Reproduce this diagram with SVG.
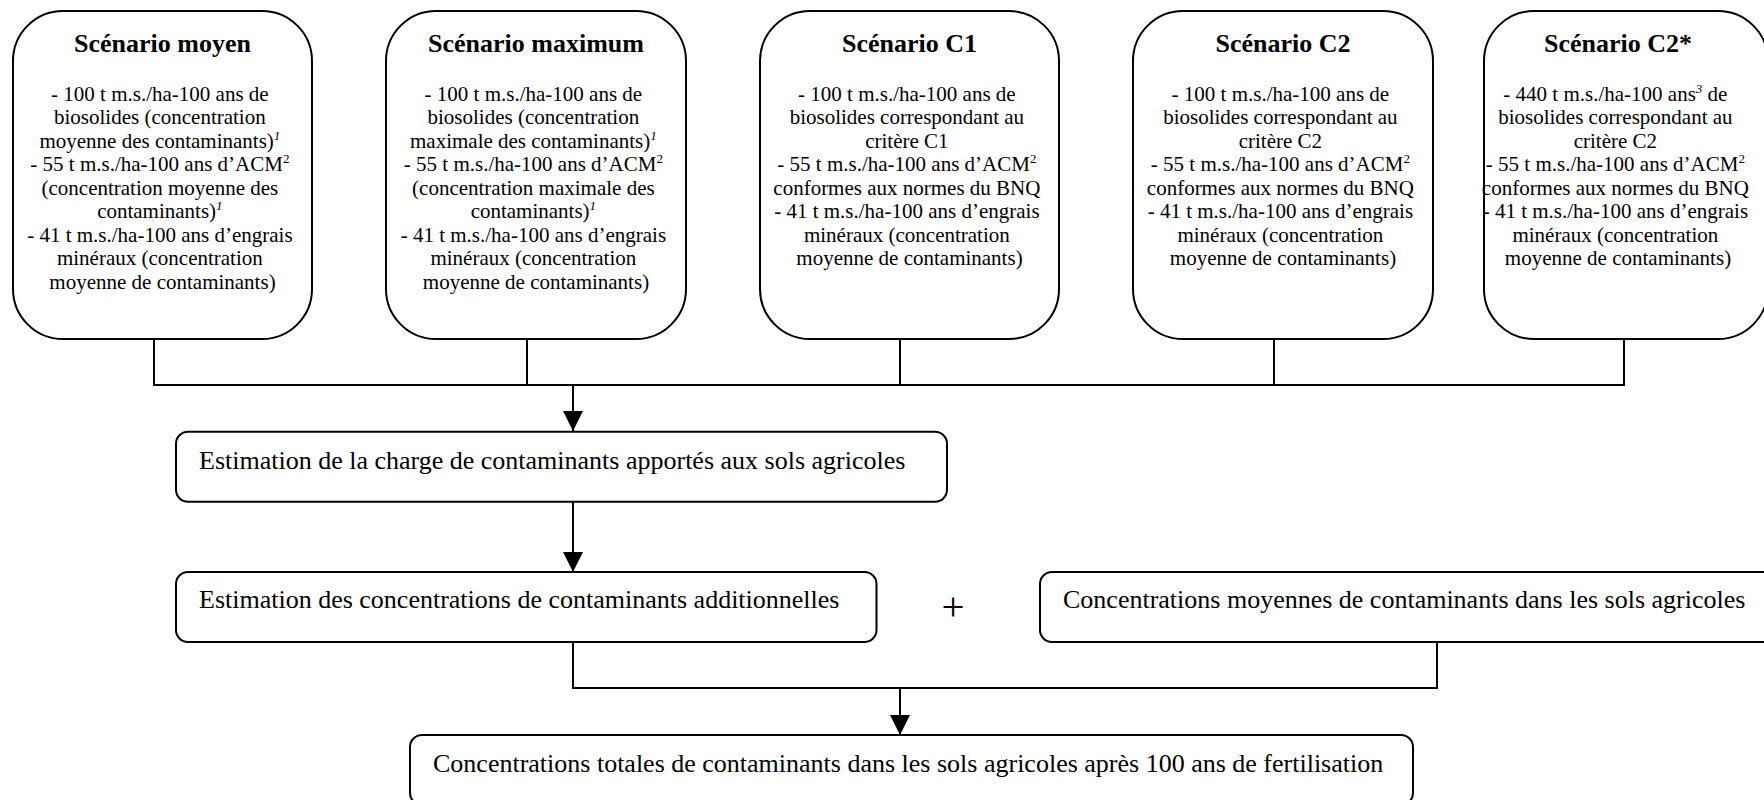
<svg xmlns="http://www.w3.org/2000/svg" width="1764" height="800" viewBox="0 0 1764 800">
  <style>
    .box { fill: #ffffff; stroke: #000000; stroke-width: 2; }
    .line { fill: none; stroke: #000000; stroke-width: 2; }
    .title { font-family: "Liberation Serif", "Times New Roman", serif; font-size: 26px; font-weight: bold; text-anchor: middle; fill: #000; }
    .body { font-family: "Liberation Serif", "Times New Roman", serif; font-size: 21px; text-anchor: middle; fill: #000; }
    .step { font-family: "Liberation Serif", "Times New Roman", serif; font-size: 26px; fill: #000; }
    .plus { font-family: "Liberation Serif", "Times New Roman", serif; font-size: 41px; text-anchor: middle; fill: #000; }
    .sup { font-size: 13px; }
    .supi { font-size: 13px; font-style: italic; }
  </style>
  <defs>
    <marker id="arrow" markerUnits="userSpaceOnUse" markerWidth="20" markerHeight="20" refX="20" refY="10" orient="auto">
      <path d="M0,0 L20,10 L0,20 z" fill="#000000"/>
    </marker>
  </defs>

  <!-- connectors -->
  <g id="connectors">
    <path class="line" d="M154,339 V385 M527,339 V385 M900,339 V385 M1274,339 V385 M1624,339 V385 M153,385 H1625"/>
    <path class="line" d="M573,385 V431" marker-end="url(#arrow)"/>
    <path class="line" d="M573,502 V572" marker-end="url(#arrow)"/>
    <path class="line" d="M573,642 V688 H1437 V642"/>
    <path class="line" d="M900,688 V735" marker-end="url(#arrow)"/>
  </g>

  <!-- scenario boxes -->
  <g id="scenario-moyen">
    <rect class="box" x="13" y="11" width="299" height="328" rx="50" ry="50"/>
    <text class="title" x="162.5" y="52">Scénario moyen</text>
    <text class="body">
      <tspan x="162.5" y="100.5">- 100 t m.s./ha-100 ans de</tspan>
      <tspan x="162.5" y="124">biosolides (concentration</tspan>
      <tspan x="162.5" y="147.5">moyenne des contaminants)<tspan class="supi" dy="-8">1</tspan></tspan>
      <tspan x="162.5" y="171">- 55 t m.s./ha-100 ans d’ACM<tspan class="sup" dy="-8">2</tspan></tspan>
      <tspan x="162.5" y="194.5">(concentration moyenne des</tspan>
      <tspan x="162.5" y="218">contaminants)<tspan class="supi" dy="-8">1</tspan></tspan>
      <tspan x="162.5" y="241.5">- 41 t m.s./ha-100 ans d’engrais</tspan>
      <tspan x="162.5" y="265">minéraux (concentration</tspan>
      <tspan x="162.5" y="288.5">moyenne de contaminants)</tspan>
    </text>
  </g>

  <g id="scenario-maximum">
    <rect class="box" x="386" y="11" width="300" height="328" rx="50" ry="50"/>
    <text class="title" x="536" y="52">Scénario maximum</text>
    <text class="body">
      <tspan x="536" y="100.5">- 100 t m.s./ha-100 ans de</tspan>
      <tspan x="536" y="124">biosolides (concentration</tspan>
      <tspan x="536" y="147.5">maximale des contaminants)<tspan class="supi" dy="-8">1</tspan></tspan>
      <tspan x="536" y="171">- 55 t m.s./ha-100 ans d’ACM<tspan class="sup" dy="-8">2</tspan></tspan>
      <tspan x="536" y="194.5">(concentration maximale des</tspan>
      <tspan x="536" y="218">contaminants)<tspan class="supi" dy="-8">1</tspan></tspan>
      <tspan x="536" y="241.5">- 41 t m.s./ha-100 ans d’engrais</tspan>
      <tspan x="536" y="265">minéraux (concentration</tspan>
      <tspan x="536" y="288.5">moyenne de contaminants)</tspan>
    </text>
  </g>

  <g id="scenario-c1">
    <rect class="box" x="760" y="11" width="299" height="328" rx="50" ry="50"/>
    <text class="title" x="909.5" y="52">Scénario C1</text>
    <text class="body">
      <tspan x="909.5" y="100.5">- 100 t m.s./ha-100 ans de</tspan>
      <tspan x="909.5" y="124">biosolides correspondant au</tspan>
      <tspan x="909.5" y="147.5">critère C1</tspan>
      <tspan x="909.5" y="171">- 55 t m.s./ha-100 ans d’ACM<tspan class="sup" dy="-8">2</tspan></tspan>
      <tspan x="909.5" y="194.5">conformes aux normes du BNQ</tspan>
      <tspan x="909.5" y="218">- 41 t m.s./ha-100 ans d’engrais</tspan>
      <tspan x="909.5" y="241.5">minéraux (concentration</tspan>
      <tspan x="909.5" y="265">moyenne de contaminants)</tspan>
    </text>
  </g>

  <g id="scenario-c2">
    <rect class="box" x="1133" y="11" width="300" height="328" rx="50" ry="50"/>
    <text class="title" x="1283" y="52">Scénario C2</text>
    <text class="body">
      <tspan x="1283" y="100.5">- 100 t m.s./ha-100 ans de</tspan>
      <tspan x="1283" y="124">biosolides correspondant au</tspan>
      <tspan x="1283" y="147.5">critère C2</tspan>
      <tspan x="1283" y="171">- 55 t m.s./ha-100 ans d’ACM<tspan class="sup" dy="-8">2</tspan></tspan>
      <tspan x="1283" y="194.5">conformes aux normes du BNQ</tspan>
      <tspan x="1283" y="218">- 41 t m.s./ha-100 ans d’engrais</tspan>
      <tspan x="1283" y="241.5">minéraux (concentration</tspan>
      <tspan x="1283" y="265">moyenne de contaminants)</tspan>
    </text>
  </g>

  <g id="scenario-c2-star">
    <rect class="box" x="1484" y="11" width="284" height="328" rx="50" ry="50"/>
    <text class="title" x="1618" y="52">Scénario C2*</text>
    <text class="body">
      <tspan x="1618" y="100.5">- 440 t m.s./ha-100 ans<tspan class="supi" dy="-8">3</tspan><tspan dy="8"> de</tspan></tspan>
      <tspan x="1618" y="124">biosolides correspondant au</tspan>
      <tspan x="1618" y="147.5">critère C2</tspan>
      <tspan x="1618" y="171">- 55 t m.s./ha-100 ans d’ACM<tspan class="sup" dy="-8">2</tspan></tspan>
      <tspan x="1618" y="194.5">conformes aux normes du BNQ</tspan>
      <tspan x="1618" y="218">- 41 t m.s./ha-100 ans d’engrais</tspan>
      <tspan x="1618" y="241.5">minéraux (concentration</tspan>
      <tspan x="1618" y="265">moyenne de contaminants)</tspan>
    </text>
  </g>

  <!-- processing steps -->
  <g id="charge">
    <rect class="box" x="176" y="431.7" width="771" height="70" rx="12" ry="12"/>
    <text class="step" x="199" y="469">Estimation de la charge de contaminants apportés aux sols agricoles</text>
  </g>

  <g id="concentrations-additionnelles">
    <rect class="box" x="176" y="572" width="700.5" height="70" rx="12" ry="12"/>
    <text class="step" x="199" y="608">Estimation des concentrations de contaminants additionnelles</text>
  </g>

  <g id="plus">
    <text class="plus" x="953" y="620">+</text>
  </g>

  <g id="concentrations-moyennes">
    <rect class="box" x="1040" y="572" width="735" height="70" rx="12" ry="12"/>
    <text class="step" x="1063" y="608">Concentrations moyennes de contaminants dans les sols agricoles</text>
  </g>

  <g id="concentrations-totales">
    <rect class="box" x="410" y="735" width="1003" height="70" rx="12" ry="12"/>
    <text class="step" x="433" y="772">Concentrations totales de contaminants dans les sols agricoles après 100 ans de fertilisation</text>
  </g>
</svg>
